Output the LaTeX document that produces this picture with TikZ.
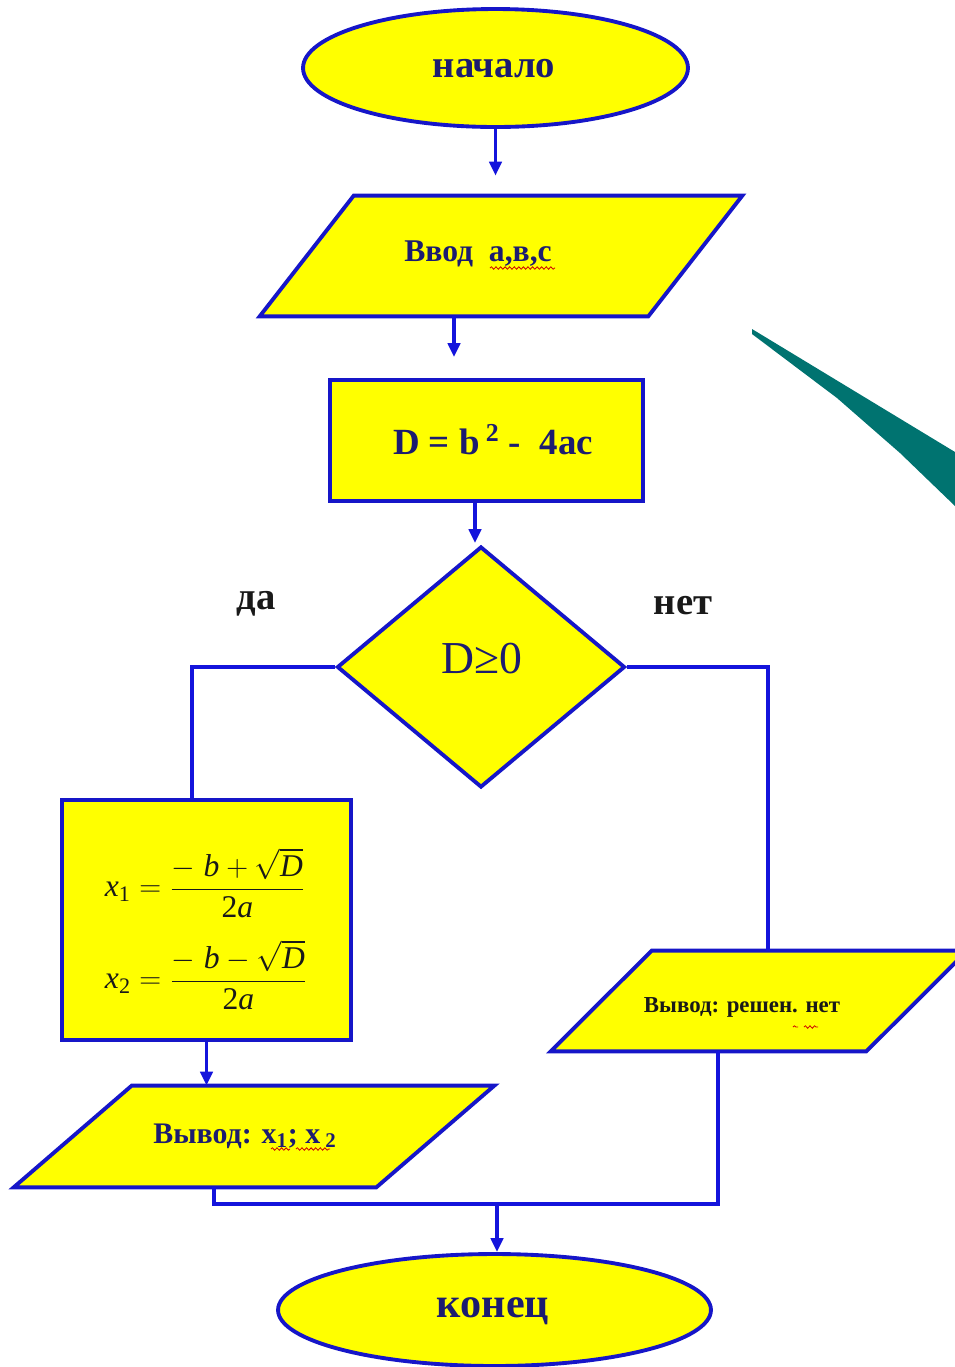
\documentclass[tikz,border=0pt]{standalone}
\usepackage{amsmath}
\usepackage{fontspec}
\setmainfont{Liberation Serif}
\usetikzlibrary{shapes.geometric,arrows.meta,calc,decorations.pathmorphing}
\definecolor{bord}{RGB}{22,22,200}
\definecolor{navy}{RGB}{28,28,112}
\definecolor{lblue}{RGB}{20,20,220}
\definecolor{tealw}{RGB}{0,115,112}
\definecolor{ylw}{RGB}{255,255,0}
\definecolor{ink}{RGB}{25,25,25}
\tikzset{
  shapebox/.style={draw=bord, line width=2.2pt, fill=ylw, inner sep=0pt},
  term/.style={shapebox, ellipse},
  iobody/.style={rectangle, inner sep=0pt},
  ioshape/.style={draw=bord, line width=2.2pt, fill=ylw, line join=miter},
  proc/.style={shapebox, rectangle},
  decis/.style={shapebox, diamond},
  conn/.style={draw=lblue, line width=2pt},
  arr/.style={conn, -{Triangle[length=8pt,width=7pt]}},
  ntext/.style={text=navy, inner sep=0pt},
  btext/.style={text=ink, inner sep=0pt},
  squig/.style={draw=red!80!black, line width=0.45pt, decorate, decoration={snake, amplitude=0.7pt, segment length=2.6pt}}
}
\newcommand{\parallelo}[2]{\draw[ioshape] ($(#1.north west)+(#2,0)$) -- ($(#1.north east)+(#2,0)$) -- ($(#1.south east)+(-#2,0)$) -- ($(#1.south west)+(-#2,0)$) -- cycle;}
\newcommand{\vi}[1]{\textit{#1}}
\begin{document}
\begin{tikzpicture}[x=0.02cm,y=-0.02cm]
\useasboundingbox (0,0) rectangle (955,1367);
\clip (0,0) rectangle (955,1367);

% decorative teal wedge
\fill[tealw] (752,329) -- (955,452) -- (955,506) -- (900,453) -- (837,398) -- (752,334) -- cycle;

% shapes
\node[term, minimum width=7.7cm, minimum height=2.36cm] (start) at (495.5,68) {};
\node[iobody, minimum width=7.76cm, minimum height=2.4cm] (vvod) at (501,256) {};
\parallelo{vvod}{47}
\node[proc, minimum width=6.26cm, minimum height=2.42cm] (calc) at (486.5,440.5) {};
\node[decis, minimum width=5.76cm, minimum height=4.82cm] (dec) at (481,667) {};
\node[proc, minimum width=5.78cm, minimum height=4.8cm] (formbox) at (206.5,920) {};
\node[iobody, minimum width=6.3cm, minimum height=2cm] (nores) at (759,1001) {};
\parallelo{nores}{50.5}
\node[iobody, minimum width=7.24cm, minimum height=2.02cm] (outx) at (254,1136.5) {};
\parallelo{outx}{59}
\node[term, minimum width=8.66cm, minimum height=2.24cm] (fin) at (494.5,1310) {};

% texts
\node[ntext, font=\fontsize{22}{25}\selectfont\bfseries] (tstart) at (494,69) {начало};
\node[ntext, font=\fontsize{18}{21}\selectfont\bfseries] (tvvod) at (478,254) {Ввод\ \ а,в,с};
\node[ntext, font=\fontsize{21}{24}\selectfont\bfseries] (tcalc) at (493,440) {D = b\,\textsuperscript{2} -\ \ 4ac};
\node[ntext, font=\fontsize{26}{29}\selectfont] (tdec) at (482,659) {D≥0};
\node[btext, font=\fontsize{22}{25}\selectfont\bfseries] (tyes) at (256,604) {да};
\node[btext, font=\fontsize{22}{25}\selectfont\bfseries] (tno) at (683,606) {нет};
\node[btext, font=\fontsize{18}{22}\selectfont] (f1) at (205,883) {$\vi{x}_{\text{1}}=\displaystyle\frac{-\;\vi{b}+\sqrt{\vi{D}}}{\text{2}\vi{a}}$};
\node[btext, font=\fontsize{18}{22}\selectfont] (f2) at (206,975) {$\vi{x}_{\text{2}}=\displaystyle\frac{-\;\vi{b}-\sqrt{\vi{D}}}{\text{2}\vi{a}}$};
\node[btext, font=\fontsize{13}{16}\selectfont\bfseries] (tnores) at (742,1007) {Вывод: решен. нет};
\node[ntext, font=\fontsize{17}{20}\selectfont\bfseries] (tout) at (245,1136) {Вывод: x\textsubscript{1}; x\,\textsubscript{2}};
\node[ntext, font=\fontsize{24}{27}\selectfont\bfseries] (tfin) at (493,1311) {конец};

% spell-check squiggles
\draw[squig] (490,268) -- (555,268);
\draw[squig] (271,1149) -- (290,1149);
\draw[squig] (296,1149) -- (330,1149);
\draw[squig] (793,1027) -- (798,1027);
\draw[squig] (804,1027) -- (818,1027);

% connectors
\draw[arr, shorten >=0.4cm] (start.south) -- (start.south |- vvod.north);
\coordinate (v2) at ($(vvod.south)+(-47,0)$);
\draw[arr, shorten >=0.42cm] (v2) -- (v2 |- calc.north);
\coordinate (c3) at ($(calc.south)+(-11.5,0)$);
\draw[arr, shorten >=0.03cm] (c3) -- (c3 |- dec.north);
\coordinate (yx) at ($(formbox.north)+(-14.5,0)$);
\draw[conn] (dec.west) -| (yx);
\coordinate (nx) at ($(nores.north)+(9,0)$);
\draw[conn] (dec.east) -| (nx);
\draw[arr] (formbox.south) -- (formbox.south |- outx.north);
\coordinate (merge) at ($(fin.north)+(2.5,-48)$);
\coordinate (lo) at ($(outx.south)+(-40,0)$);
\coordinate (ro) at ($(nores.south)+(-41,0)$);
\draw[conn] (lo) |- (merge);
\draw[conn] (ro) |- (merge);
\draw[arr] (merge) -- (merge |- fin.north);
\end{tikzpicture}
\end{document}
